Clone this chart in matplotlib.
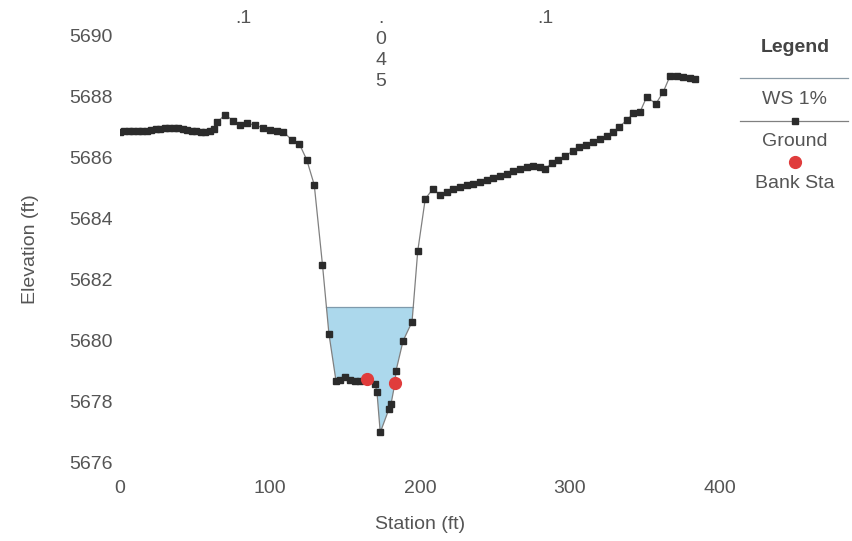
import numpy as np
import matplotlib
matplotlib.use("Agg")
import matplotlib.pyplot as plt
from matplotlib.lines import Line2D

# Ground profile (station ft, elevation ft)
station = [0, 3, 6, 9, 12, 15, 18, 21, 24, 27, 30, 33, 36, 39, 42, 45, 48, 51, 54, 57, 60, 62.5,
           65, 70, 75.5, 80, 84.5, 90, 95.5, 100, 104.5, 109, 114.5, 119.5, 124.5, 129.5,
           135, 139.3, 144, 146.7, 150, 153.3, 156.7, 160, 164.7, 170, 171.3, 173.5,
           179.3, 180.7, 183.3, 184, 188.7, 194.7, 198.5, 203.5, 208.5, 213.3,
           217.8, 222.2, 226.7, 231.1, 235.5, 240, 244.5, 248.9, 253.3, 257.8, 262.2,
           266.7, 271.1, 275.5, 280, 283.3, 287.8, 292.2, 296.7, 301.8, 306.2, 310.7,
           315.5, 320, 324.5, 328.9, 332.9, 337.8, 342.2, 346.7, 351.1, 357.3, 362.2,
           366.7, 371.1, 375.5, 380, 383.3]
elevation = [5686.86, 5686.87, 5686.87, 5686.88, 5686.88, 5686.89, 5686.90, 5686.92, 5686.94,
             5686.96, 5686.98, 5686.99, 5686.99, 5686.97, 5686.95, 5686.93, 5686.90, 5686.88,
             5686.86, 5686.86, 5686.88, 5686.95,
             5687.18, 5687.42, 5687.22, 5687.07, 5687.15, 5687.07, 5686.99, 5686.92, 5686.89,
             5686.86, 5686.59, 5686.47, 5685.94, 5685.12,
             5682.49, 5680.23, 5678.69, 5678.72, 5678.82, 5678.72, 5678.69, 5678.69, 5678.76,
             5678.59, 5678.33, 5677.00,
             5677.77, 5677.94, 5678.62, 5679.02, 5680.00, 5680.63, 5682.95, 5684.66, 5684.98,
             5684.80,
             5684.89, 5684.98, 5685.05, 5685.11, 5685.16, 5685.22, 5685.27, 5685.35, 5685.41,
             5685.49, 5685.57, 5685.63, 5685.69, 5685.74, 5685.71, 5685.65, 5685.82, 5685.93,
             5686.07, 5686.22, 5686.36, 5686.44, 5686.53, 5686.62, 5686.72, 5686.86, 5687.02,
             5687.24, 5687.46, 5687.51, 5688.00, 5687.78, 5688.17, 5688.69, 5688.69, 5688.66,
             5688.63, 5688.60]

ws_elev = 5681.1
bank_sta = [164.7, 183.3]
bank_elev = [5678.76, 5678.62]
n_values = [".1", ".\n0\n4\n5", ".1"]

xticks = [0, 100, 200, 300, 400]
yticks = [5676, 5678, 5680, 5682, 5684, 5686, 5688, 5690]

plt.rcParams["font.family"] = ["Liberation Sans", "DejaVu Sans"]
txt = "#555555"

fig = plt.figure(figsize=(8.53, 5.41), dpi=100)
ax = fig.add_axes([120 / 853, 1 - 463 / 541, 600 / 853, 427 / 541])

sta = np.array(station)
elev = np.array(elevation)

# water surface fill
ax.fill_between(sta, elev, ws_elev, where=elev < ws_elev, interpolate=True,
                facecolor="#acd8ec", edgecolor="none", zorder=1)
wet = np.where(elev < ws_elev)[0]
i0, i1 = wet[0], wet[-1]
xl = np.interp(ws_elev, [elev[i0], elev[i0 - 1]], [sta[i0], sta[i0 - 1]])
xr = np.interp(ws_elev, [elev[i1], elev[i1 + 1]], [sta[i1], sta[i1 + 1]])
ax.plot([xl, xr], [ws_elev, ws_elev], color="#7f9aac", lw=0.9, zorder=2)

ax.plot(sta, elev, color="#808080", lw=0.9, marker="s", markersize=4.8,
        markerfacecolor="#2b2b2b", markeredgecolor="#2b2b2b", zorder=3)
ax.plot(bank_sta, bank_elev, linestyle="none", marker="o", markersize=8.5,
        color="#e03c3c", zorder=4)

ax.set_xlim(0, 400)
ax.set_ylim(5676, 5690)
ax.set_xticks(xticks)
ax.set_yticks(yticks)
for s in ax.spines.values():
    s.set_visible(False)
ax.tick_params(length=0, labelsize=14, labelcolor=txt)
ax.tick_params(axis="x", pad=12)
ax.tick_params(axis="y", pad=5)
ax.set_xlabel("Station (ft)", fontsize=14, color=txt, labelpad=14)
ax.set_ylabel("Elevation (ft)", fontsize=14, color=txt, labelpad=22)

# Manning's n labels at the middle of each sub-section
edges = [sta[0], bank_sta[0], bank_sta[1], sta[-1]]
for k, lab in enumerate(n_values):
    xm = (edges[k] + edges[k + 1]) / 2
    ax.text(xm, 1.06, lab, transform=ax.get_xaxis_transform(), ha="center", va="top",
            fontsize=14, color=txt, linespacing=1.3, clip_on=False)

# legend drawn at the right
lx0, lx1, lxc = 740 / 853, 848 / 853, 795 / 853
def fy(p):
    return 1 - p / 541
fig.text(lxc, fy(48), "Legend", ha="center", va="center", fontsize=14, fontweight="bold", color="#444444")
fig.add_artist(Line2D([lx0, lx1], [fy(78), fy(78)], color="#8a9aa5", lw=0.9))
fig.text(lxc, fy(99), "WS 1%", ha="center", va="center", fontsize=14, color=txt)
fig.add_artist(Line2D([lx0, lx1], [fy(121), fy(121)], color="#808080", lw=0.9))
fig.add_artist(Line2D([lxc], [fy(121)], marker="s", markersize=4.8, color="#2b2b2b"))
fig.text(lxc, fy(141), "Ground", ha="center", va="center", fontsize=14, color=txt)
fig.add_artist(Line2D([lxc], [fy(162)], marker="o", markersize=8.5, color="#e03c3c"))
fig.text(lxc, fy(183), "Bank Sta", ha="center", va="center", fontsize=14, color=txt)

fig.savefig("out.png", dpi=100)
